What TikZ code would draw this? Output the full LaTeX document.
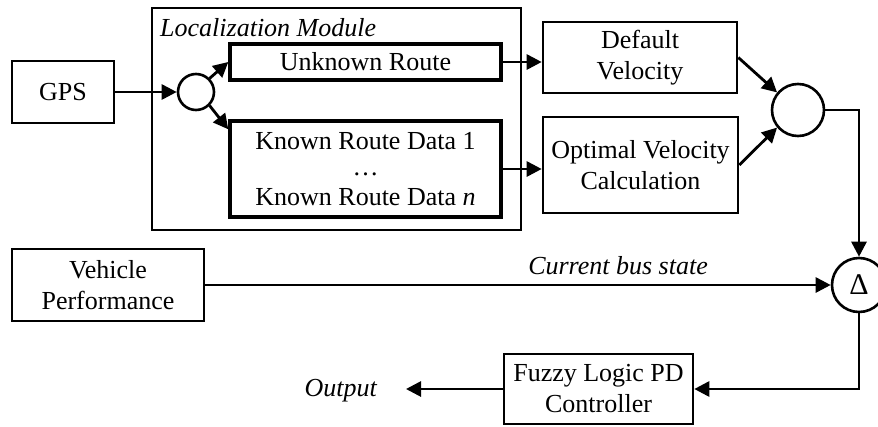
\documentclass[tikz,border=0pt]{standalone}
\usepackage{fontspec}
\setmainfont{Liberation Serif}
\usetikzlibrary{arrows.meta,positioning}

\tikzset{
  block/.style={draw,line width=2.6pt,align=center,inner sep=0pt},
  routebox/.style={block,line width=3.4pt},
  junction/.style={draw,circle,line width=2.6pt,inner sep=0pt},
  flow/.style={line width=2.8pt,-{Triangle[length=15pt,width=15pt]}},
  tag/.style={font=\fontsize{26}{31}\itshape},
}

\begin{document}
\begin{tikzpicture}[x=1pt,y=-1pt,font=\fontsize{26}{31}\selectfont]
        \useasboundingbox (0,0) rectangle (878,426);
        % localisation stage
        \node[block,minimum width=369,minimum height=222] (module) at (336.5,119) {};
        \node[tag,anchor=base west,inner sep=0pt] (title) at (160,36) {Localization Module};
        \node[block,minimum width=102,minimum height=62] (gps) at (63,92) {GPS};
        \node[junction,minimum size=36] (split) at (196,92) {};
        \node[routebox,minimum width=271,minimum height=36] (unknown) at (365.5,62) {Unknown Route};
        \node[routebox,minimum width=271,minimum height=96] (known) at (365.5,169)
          {Known Route Data 1\\[-5pt] \ldots\\[-1pt] Known Route Data \textit{n}};
        % velocity profiles
        \node[block,minimum width=194,minimum height=71] (default) at (640,57.5) {Default\\ Velocity};
        \node[block,minimum width=195,minimum height=96] (optimal) at (640.5,165) {Optimal Velocity\\ Calculation};
        \node[junction,minimum size=52] (mix) at (798,110) {};
        % feedback loop
        \node[junction,minimum size=54,font=\fontsize{30}{36}\selectfont] (delta) at (859,285) {Δ};
        \node[block,minimum width=192,minimum height=72] (vehicle) at (108,285) {Vehicle\\ Performance};
        \node[block,minimum width=189,minimum height=70] (fuzzy) at (598.5,389) {Fuzzy Logic PD\\ Controller};
        \node[tag,anchor=east,inner sep=0pt] (output) at (377,391) {Output};

        \draw[flow] (gps.east) -- (split.west);
        \draw[flow] (split.north east) -- (unknown.west);
        \draw[flow] (split.south east) -- ([yshift=-10pt]known.north west);
        \draw[flow] (unknown.east) -- (unknown.east -| default.west);
        \draw[flow] (known.east) -- (known.east -| optimal.west);
        \draw[flow] (default.east) -- (mix.140);
        \draw[flow] (optimal.east) -- (mix.220);
        \draw[flow] (mix.east) -| (delta.north);
        \draw[flow] (vehicle.east) -- (delta.west)
          node[tag,pos=0.66,above=5pt] {Current bus state};
        \draw[flow] (delta.south) |- (fuzzy.east);
        \draw[flow] (fuzzy.west) -- ([xshift=29pt]output.east |- fuzzy.west);
      \end{tikzpicture}
\end{document}
